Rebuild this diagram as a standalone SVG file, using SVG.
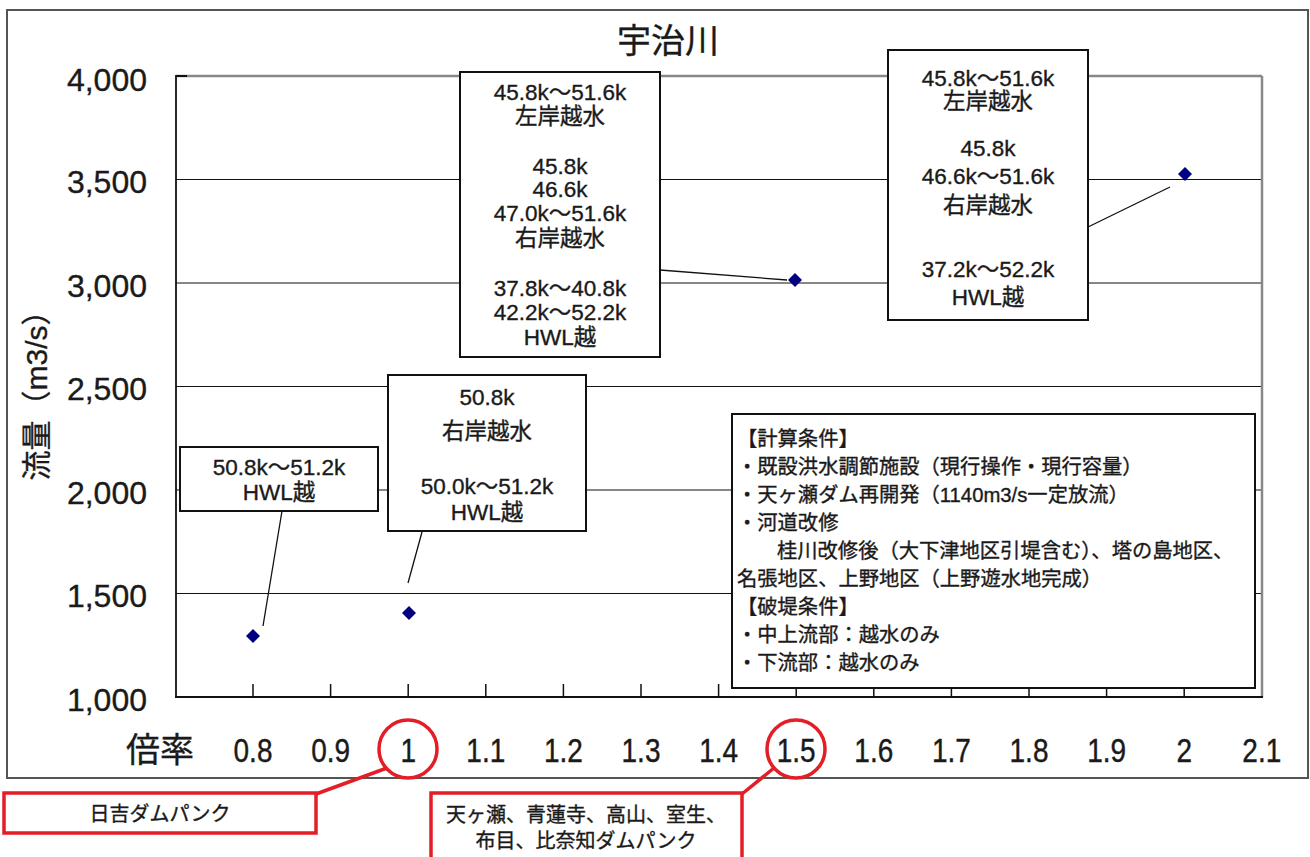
<svg xmlns="http://www.w3.org/2000/svg" width="1310" height="857" viewBox="0 0 1310 857">
<style>
text{font-family:"Liberation Sans","Noto Sans CJK JP",sans-serif;fill:#1a1a1a;stroke:#1a1a1a;stroke-width:0.35px}
.ylab{font-size:32px;text-anchor:end}
.xlab{font-size:28px;text-anchor:middle}
.box{fill:#fff;stroke:#111;stroke-width:2}
.bt{font-size:22.5px;text-anchor:middle}
.lg{font-size:20.3px}
.grid{stroke:#111;stroke-width:1.2}
.lead{stroke:#111;stroke-width:1.3}
.pt{fill:#000080}
.red{fill:none;stroke:#e31e26;stroke-width:3.5}
.rt{font-size:20px;text-anchor:middle}
</style>
<rect x="7" y="10" width="1301" height="768" fill="#fff" stroke="#555" stroke-width="2"/>
<text x="668" y="53" style="font-size:34px;text-anchor:middle">宇治川</text>
<g id="axes">
<line class="grid" x1="176" y1="179.5" x2="1262" y2="179.5"/>
<line class="grid" x1="176" y1="283" x2="1262" y2="283"/>
<line class="grid" x1="176" y1="386.5" x2="1262" y2="386.5"/>
<line class="grid" x1="176" y1="490" x2="1262" y2="490"/>
<line class="grid" x1="176" y1="593.5" x2="1262" y2="593.5"/>
<line x1="176" y1="76" x2="1262" y2="76" stroke="#888" stroke-width="2.5"/>
<line x1="1262" y1="76" x2="1262" y2="697" stroke="#888" stroke-width="2.5"/>
<line x1="176" y1="76" x2="187" y2="76" stroke="#111" stroke-width="2"/>
<line x1="176" y1="75" x2="176" y2="698" stroke="#111" stroke-width="1.8"/>
<line x1="175" y1="697" x2="1263" y2="697" stroke="#111" stroke-width="1.8"/>
<path d="M253 697V684M330.6 697V684M408.2 697V684M485.8 697V684M563.4 697V684M641 697V684M718.6 697V684M796.2 697V684M873.8 697V684M951.4 697V684M1029 697V684M1106.6 697V684M1184.2 697V684" stroke="#111" stroke-width="1.5"/>
<text class="ylab" x="147" y="91">4,000</text>
<text class="ylab" x="147" y="193">3,500</text>
<text class="ylab" x="147" y="297">3,000</text>
<text class="ylab" x="147" y="400">2,500</text>
<text class="ylab" x="147" y="504">2,000</text>
<text class="ylab" x="147" y="607">1,500</text>
<text class="ylab" x="147" y="711">1,000</text>
<text transform="translate(47,388) rotate(-90)" style="font-size:30px;text-anchor:middle">流量（m3/s）</text>
<text x="160" y="762" style="font-size:34px;text-anchor:middle">倍率</text>
<text class="xlab" transform="translate(253,762) scale(1,1.2)">0.8</text>
<text class="xlab" transform="translate(330.6,762) scale(1,1.2)">0.9</text>
<text class="xlab" transform="translate(408.2,762) scale(1,1.2)">1</text>
<text class="xlab" transform="translate(485.8,762) scale(1,1.2)">1.1</text>
<text class="xlab" transform="translate(563.4,762) scale(1,1.2)">1.2</text>
<text class="xlab" transform="translate(641,762) scale(1,1.2)">1.3</text>
<text class="xlab" transform="translate(718.6,762) scale(1,1.2)">1.4</text>
<text class="xlab" transform="translate(796.2,762) scale(1,1.2)">1.5</text>
<text class="xlab" transform="translate(873.8,762) scale(1,1.2)">1.6</text>
<text class="xlab" transform="translate(951.4,762) scale(1,1.2)">1.7</text>
<text class="xlab" transform="translate(1029,762) scale(1,1.2)">1.8</text>
<text class="xlab" transform="translate(1106.6,762) scale(1,1.2)">1.9</text>
<text class="xlab" transform="translate(1184.2,762) scale(1,1.2)">2</text>
<text class="xlab" transform="translate(1261.8,762) scale(1,1.2)">2.1</text>
</g>
<g id="connectors">
<line class="lead" x1="282" y1="511" x2="263" y2="626"/>
<line class="lead" x1="422" y1="532" x2="408" y2="583"/>
<line class="lead" x1="660" y1="270" x2="787" y2="280"/>
<line class="lead" x1="1088" y1="227" x2="1170" y2="187"/>
<line class="red" x1="387" y1="768" x2="316" y2="794"/>
<line class="red" x1="774" y1="768" x2="742" y2="794"/>
</g>
<g id="points">
<path class="pt" d="M253 629l7 7-7 7-7-7z"/>
<path class="pt" d="M409 606l7 7-7 7-7-7z"/>
<path class="pt" d="M795 273l7 7-7 7-7-7z"/>
<path class="pt" d="M1185 167l7 7-7 7-7-7z"/>
</g>
<g id="labelA">
<rect class="box" x="180" y="447" width="198" height="64"/>
<text class="bt" x="279" y="475">50.8k～51.2k</text>
<text class="bt" x="279" y="500">HWL越</text>
</g>
<g id="labelB">
<rect class="box" x="388" y="375" width="198" height="156"/>
<text class="bt" x="487" y="405">50.8k</text>
<text class="bt" x="487" y="439">右岸越水</text>
<text class="bt" x="487" y="494">50.0k～51.2k</text>
<text class="bt" x="487" y="520">HWL越</text>
</g>
<g id="labelC">
<rect class="box" x="460" y="72" width="200" height="285"/>
<text class="bt" x="560" y="100">45.8k～51.6k</text>
<text class="bt" x="560" y="124">左岸越水</text>
<text class="bt" x="560" y="174">45.8k</text>
<text class="bt" x="560" y="197">46.6k</text>
<text class="bt" x="560" y="221">47.0k～51.6k</text>
<text class="bt" x="560" y="246">右岸越水</text>
<text class="bt" x="560" y="296">37.8k～40.8k</text>
<text class="bt" x="560" y="320">42.2k～52.2k</text>
<text class="bt" x="560" y="345">HWL越</text>
</g>
<g id="labelD">
<rect class="box" x="888" y="50" width="200" height="270"/>
<text class="bt" x="988" y="86">45.8k～51.6k</text>
<text class="bt" x="988" y="109">左岸越水</text>
<text class="bt" x="988" y="156">45.8k</text>
<text class="bt" x="988" y="184">46.6k～51.6k</text>
<text class="bt" x="988" y="213">右岸越水</text>
<text class="bt" x="988" y="277">37.2k～52.2k</text>
<text class="bt" x="988" y="305">HWL越</text>
</g>
<g id="conditions">
<rect class="box" x="732" y="414" width="523" height="274"/>
<text class="lg" x="737" y="446">【計算条件】</text>
<text class="lg" x="737" y="474">・既設洪水調節施設（現行操作・現行容量）</text>
<text class="lg" x="737" y="502">・天ヶ瀬ダム再開発（1140m3/s一定放流）</text>
<text class="lg" x="737" y="530">・河道改修</text>
<text class="lg" x="777" y="558">桂川改修後（大下津地区引堤含む）、塔の島地区、</text>
<text class="lg" x="737" y="586">名張地区、上野地区（上野遊水地完成）</text>
<text class="lg" x="737" y="614">【破堤条件】</text>
<text class="lg" x="737" y="642">・中上流部：越水のみ</text>
<text class="lg" x="737" y="670">・下流部：越水のみ</text>
</g>
<g id="mark1">
<circle class="red" cx="408" cy="749" r="29"/>
<rect class="red" x="4" y="793" width="312" height="40" fill="#fff"/>
<text class="rt" x="160" y="821">日吉ダムパンク</text>
</g>
<g id="mark2">
<circle class="red" cx="796" cy="749" r="29"/>
<rect class="red" x="431" y="793" width="311" height="72"/>
<text class="rt" x="586" y="822">天ヶ瀬、青蓮寺、高山、室生、</text>
<text class="rt" x="586" y="848">布目、比奈知ダムパンク</text>
</g>
</svg>
